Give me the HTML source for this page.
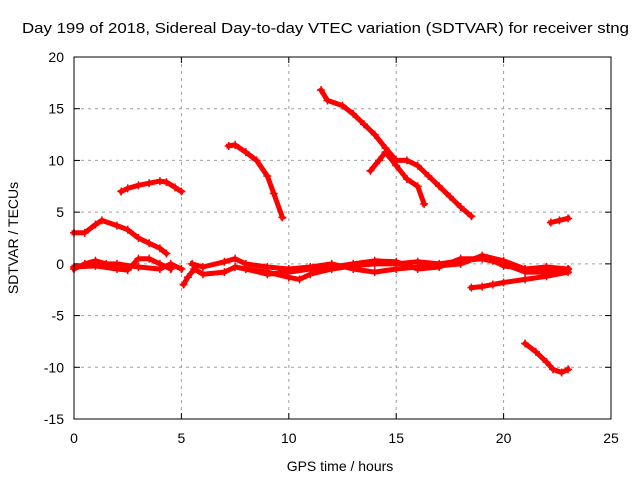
<!DOCTYPE html>
<html><head><meta charset="utf-8"><style>
body{margin:0;background:#fff;}
svg{display:block;font-family:"Liberation Sans",sans-serif;}
</style></head><body>
<svg id="chart" width="640" height="480">
<text x="22" y="33" font-size="15" textLength="607" lengthAdjust="spacingAndGlyphs">Day 199 of 2018, Sidereal Day-to-day VTEC variation (SDTVAR) for receiver stng</text>
<text x="340" y="471" font-size="14" text-anchor="middle">GPS time / hours</text>
<text transform="translate(18,238) rotate(-90)" font-size="14" text-anchor="middle">SDTVAR / TECUs</text>
<g id="grid"></g>
<g id="ticks"></g>
<g id="series"></g>
<rect x="74" y="57" width="537" height="362" fill="none" stroke="#000" stroke-width="1"/>
</svg>
<script>
const xTicks=[0,5,10,15,20,25];
const yTicks=[-15,-10,-5,0,5,10,15,20];
const seg1=[[0,3],[0.5,3],[1,3.8],[1.3,4.2],[2,3.7],[2.5,3.3],[3,2.5],[3.5,2],[4,1.5],[4.3,1]];
const seg2=[[2.2,7],[2.5,7.3],[3,7.6],[3.5,7.8],[4,8.0],[4.3,7.9],[4.7,7.4],[5,7]];
const seg3=[[7.2,11.4],[7.5,11.5],[8,10.8],[8.5,10],[9,8.5],[9.3,6.8],[9.7,4.5]];
const seg4=[[11.5,16.8],[11.8,15.8],[12.5,15.3],[13,14.5],[13.5,13.5],[14,12.5],[14.5,11.2],[15,10],[15.5,10],[16,9.5],[16.5,8.5],[17,7.5],[17.5,6.5],[18,5.5],[18.5,4.6]];
const seg5=[[13.8,9],[14.2,10],[14.5,10.8],[15,9.5],[15.5,8.2],[16,7.5],[16.3,5.8]];
const seg6=[[22.2,4],[22.6,4.2],[23,4.4]];
const seg7=[[21,-7.7],[21.5,-8.5],[22,-9.5],[22.3,-10.2],[22.7,-10.5],[23,-10.2]];
const seg8=[[18.5,-2.3],[19,-2.2],[19.5,-2],[20,-1.8],[21,-1.5],[22,-1.2],[23,-0.8]];
const seg9=[[0,-0.5],[0.5,0],[1,0.3],[1.5,0],[2,0],[3,-0.3],[4,-0.5],[4.5,0],[5,-0.5]];
const seg10=[[0,-0.3],[1,-0.2],[2,-0.5],[2.5,-0.6],[3,0.5],[3.5,0.5],[4,0],[4.5,-0.5]];
const seg11=[[5.1,-2],[5.3,-1.3],[5.6,-0.5],[6,-1],[7,-0.8],[7.5,-0.3],[8,-0.5],[9,-0.8],[10,-1.3],[10.5,-1.5],[11,-1],[12,-0.5],[13,-0.2],[14,0],[15,0],[16,0.2],[17,0],[18,0.3],[19,0.5],[19.5,0.3],[20,-0.2],[21,-0.5],[22,-0.8],[23,-0.5]];
const seg12=[[5.5,0],[6,-0.3],[7,0.2],[7.5,0.5],[8,0],[9,-0.3],[10,-0.5],[11,-0.3],[12,0],[13,-0.5],[14,-0.8],[15,-0.5],[16,-0.3],[17,-0.2],[18,0],[19,0.8],[20,0.3],[21,-0.5],[22,-0.3],[23,-0.5]];
const seg13=[[8,-0.5],[9,-1],[10,-0.8],[11,-0.5],[12,-0.3],[13,0],[14,0.3],[15,0.2],[16,-0.5],[17,-0.3],[18,0.5],[19,0.5],[20,0],[21,-0.8],[22,-0.8],[23,-0.5]];
const allSegs=[seg1,seg2,seg3,seg4,seg5,seg6,seg7,seg8,seg9,seg10,seg11,seg12,seg13];
const NS="http://www.w3.org/2000/svg";
const X0=74,X1=611,Y0=419,Y1=57;
function sx(v){return X0+(v-0)/(25-0)*(X1-X0);}
function sy(v){return Y0-(v+15)/(20+15)*(Y0-Y1);}
const grid=document.getElementById('grid'),ticks=document.getElementById('ticks'),ser=document.getElementById('series');
function mk(tag,attrs,parent){const e=document.createElementNS(NS,tag);for(const k in attrs)e.setAttribute(k,attrs[k]);parent.appendChild(e);return e;}
xTicks.forEach(t=>{const x=sx(t);
 if(t>0&&t<25){const g=mk('line',{x1:x,x2:x,y1:Y1,y2:Y0,stroke:'#a0a0a0','stroke-dasharray':'3,4'},grid);
 
 }
 mk('line',{x1:x,x2:x,y1:Y0,y2:Y0-6,stroke:'#000'},ticks);mk('line',{x1:x,x2:x,y1:Y1,y2:Y1+6,stroke:'#000'},ticks);
 const l=mk('text',{x:x,y:Y0+24,'font-size':14,'text-anchor':'middle'},ticks);l.textContent=t;
 
 });
yTicks.forEach(t=>{const y=sy(t);
 if(t>-15&&t<20){const g=mk('line',{x1:X0,x2:X1,y1:y,y2:y,stroke:'#a0a0a0','stroke-dasharray':'3,4'},grid);
 
 }
 mk('line',{x1:X0,x2:X0+6,y1:y,y2:y,stroke:'#000'},ticks);mk('line',{x1:X1,x2:X1-6,y1:y,y2:y,stroke:'#000'},ticks);
 const l=mk('text',{x:X0-10,y:y+5,'font-size':14,'text-anchor':'end'},ticks);l.textContent=t;
 
 });
allSegs.forEach((s,i)=>{
 const d=s.map((p,j)=>(j?'L':'M')+sx(p[0]).toFixed(1)+','+sy(p[1]).toFixed(1)).join('');
 const p=mk('path',{d:d,fill:'none',stroke:'#ff0000','stroke-width':5,'stroke-linejoin':'round','stroke-linecap':'square'},ser);
 
 
 s.forEach(q=>{const x=sx(q[0]),y=sy(q[1]);
  mk('path',{d:`M${x-4},${y}H${x+4}M${x},${y-4}V${y+4}`,stroke:'#ff0000','stroke-width':1.5},ser);});
});
</script>
</body></html>
